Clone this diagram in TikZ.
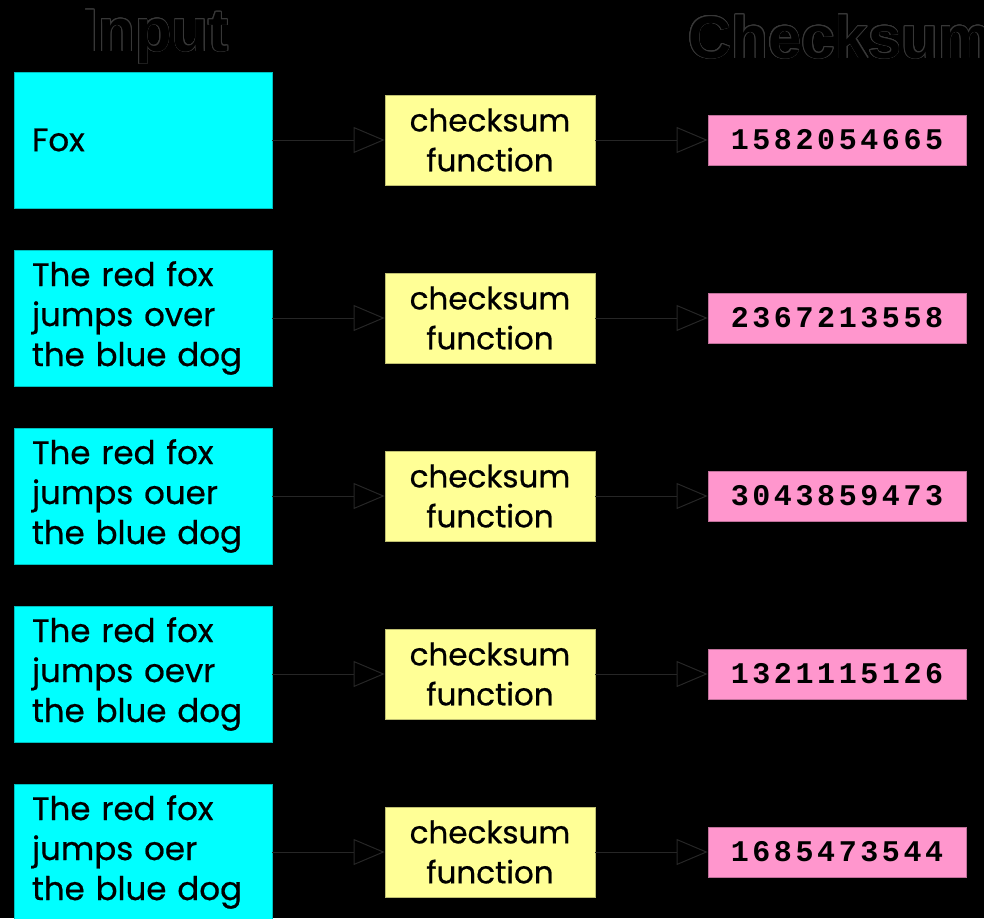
\documentclass[tikz,border=0pt]{standalone}
\usepackage{fontspec}
\usepackage{contour}
\usetikzlibrary{arrows.meta}
\setmainfont{Poppins}[FakeBold=0.6]
\newfontfamily\titlefont{Liberation Sans}
\newfontfamily\numfont[LetterSpace=12]{Liberation Mono}
\contourlength{0.7pt}
\definecolor{inbox}{RGB}{0,255,255}
\definecolor{fnbox}{RGB}{255,255,150}
\definecolor{outbox}{RGB}{255,150,205}
\definecolor{edge}{RGB}{38,38,38}
\tikzset{
  inputbox/.style={draw=inbox!75!black, line width=0.8pt, fill=inbox,
    minimum width=258pt, minimum height=136pt, text width=222pt,
    inner xsep=18pt, inner ysep=0pt, align=left,
    font=\fontsize{32.5}{40}\selectfont},
  funcbox/.style={draw=fnbox!75!black, line width=0.8pt, fill=fnbox,
    minimum width=210pt, minimum height=90pt, inner sep=0pt, align=center,
    font=\fontsize{31}{40}\selectfont},
  sumbox/.style={draw=outbox!75!black, line width=0.8pt, fill=outbox,
    minimum width=258pt, minimum height=50pt, inner sep=0pt,
    font=\numfont\bfseries\fontsize{30}{32}\selectfont},
  heading/.style={font=\titlefont\bfseries\fontsize{60}{62}\selectfont, inner sep=0pt},
  conn/.style={draw=edge, line width=1pt,
    -{Triangle[open, length=31pt, width=26pt, line width=1pt]}}
}
\begin{document}
\begin{tikzpicture}[x=1pt, y=-1pt]
  \fill[black] (0,0) rectangle (984,918);
  \useasboundingbox (0,0) rectangle (984,918);

  % column headings
  \node[heading] (hin) at (155,37) {\contour{black!78}{Input}};
  \node[heading, anchor=west] (hout) at (688,37) {\contour{black!78}{Checksum}};

  % one row per input: message -> checksum function -> value
  \foreach \i/\msg/\val in {
      0/{Fox}/1582054665,
      1/{The red fox\\jumps over\\the blue dog}/2367213558,
      2/{The red fox\\jumps ouer\\the blue dog}/3043859473,
      3/{The red fox\\jumps oevr\\the blue dog}/1321115126,
      4/{The red fox\\jumps oer\\the blue dog}/1685473544} {
    \pgfmathsetmacro{\yy}{140+178*\i}
    \node[inputbox] (in\i) at (143,\yy) {\msg};
    \node[funcbox] (fn\i) at (490,\yy) {checksum\\function};
    \node[sumbox] (out\i) at (837,\yy) {\val};
    \draw[conn] (in\i) -- (fn\i);
    \draw[conn] (fn\i) -- (out\i);
  }
\end{tikzpicture}
\end{document}
